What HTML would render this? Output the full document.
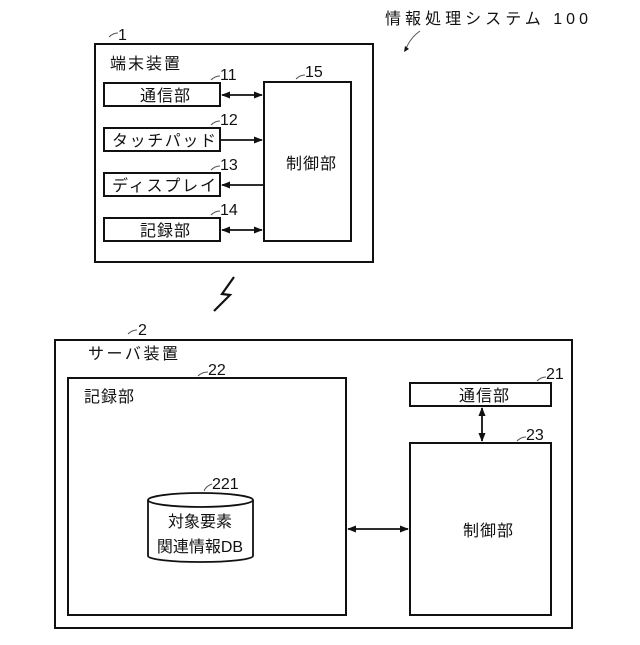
<!DOCTYPE html>
<html><head><meta charset="utf-8"><style>html,body{margin:0;padding:0;background:#fff}</style></head>
<body>
<svg width="640" height="640" viewBox="0 0 640 640" xmlns="http://www.w3.org/2000/svg" font-family="Liberation Sans, Noto Sans CJK JP, sans-serif" fill="none" stroke="#111">
<defs>
<marker id="a" viewBox="0 0 10 10" refX="9" refY="5" markerWidth="9" markerHeight="9" orient="auto-start-reverse" markerUnits="userSpaceOnUse"><path d="M0,1 L10,5 L0,9 z" fill="#111" stroke="none"/></marker>
</defs>
<g stroke-width="2">
<rect x="95" y="44" width="278" height="218"/>
<rect x="104" y="83" width="116" height="23"/>
<rect x="104" y="128" width="116" height="23"/>
<rect x="104" y="173" width="116" height="23"/>
<rect x="104" y="218" width="116" height="23"/>
<rect x="264" y="82" width="87" height="159"/>
<rect x="55" y="340" width="517" height="288"/>
<rect x="68" y="378" width="278" height="237"/>
<rect x="410" y="383" width="141" height="23"/>
<rect x="410" y="443" width="141" height="172"/>
</g>
<g stroke-width="1.8">
<line x1="222" y1="95" x2="262" y2="95" marker-start="url(#a)" marker-end="url(#a)"/>
<line x1="221" y1="140" x2="262" y2="140" marker-end="url(#a)"/>
<line x1="263" y1="185" x2="222" y2="185" marker-end="url(#a)"/>
<line x1="222" y1="230" x2="262" y2="230" marker-start="url(#a)" marker-end="url(#a)"/>
<line x1="348" y1="529" x2="408" y2="529" marker-start="url(#a)" marker-end="url(#a)"/>
<line x1="482" y1="408" x2="482" y2="441" marker-start="url(#a)" marker-end="url(#a)"/>
<path d="M148,500 L148,556 A52.5,6 0 0 0 253,556 L253,500"/>
<ellipse cx="200.5" cy="500" rx="52.5" ry="7"/>
<polyline points="234,277 222,294 230,295 214,311" stroke-width="2.2"/>
</g>
<g stroke-width="1" stroke="#555">
<path d="M420,31 Q410,38 406,49"/>
<path d="M109,37 Q113,33 118,33"/>
<path d="M211,80 Q215,76 220,76"/>
<path d="M211,125 Q215,121 220,121"/>
<path d="M211,170 Q215,166 220,166"/>
<path d="M211,215 Q215,211 220,211"/>
<path d="M296,79 Q300,75 305,75"/>
<path d="M128,334 Q132,330 137,330"/>
<path d="M198,376 Q202,372 208,372"/>
<path d="M537,381 Q541,377 546,377"/>
<path d="M517,441 Q521,437 526,437"/>
<path d="M204,491 Q206,486 212,484"/>
</g>
<path d="M404,52 l1,-6 l4,3z" fill="#111" stroke="none"/>
<g fill="#111" stroke="none" font-size="16">
<text x="385" y="24" textLength="203" lengthAdjust="spacing">情報処理システム 100</text>
<text x="118" y="40">1</text>
<text x="110" y="69" textLength="70">端末装置</text>
<text x="220" y="80">11</text>
<text x="220" y="125">12</text>
<text x="220" y="170">13</text>
<text x="220" y="215">14</text>
<text x="305" y="77">15</text>
<text x="140" y="101" textLength="50">通信部</text>
<text x="112" y="146" textLength="104" lengthAdjust="spacing">タッチパッド</text>
<text x="112" y="191" textLength="104" lengthAdjust="spacing">ディスプレイ</text>
<text x="140" y="236" textLength="50">記録部</text>
<text x="286" y="169" textLength="50">制御部</text>
<text x="138" y="335">2</text>
<text x="88" y="359" textLength="90" lengthAdjust="spacing">サーバ装置</text>
<text x="208" y="375">22</text>
<text x="84" y="402" textLength="50">記録部</text>
<text x="546" y="379">21</text>
<text x="526" y="440">23</text>
<text x="459" y="401" textLength="50">通信部</text>
<text x="463" y="536" textLength="50">制御部</text>
<text x="212" y="489">221</text>
<text x="200" y="527" text-anchor="middle">対象要素</text>
<text x="200" y="552" text-anchor="middle">関連情報DB</text>
</g>
</svg>
</body></html>
